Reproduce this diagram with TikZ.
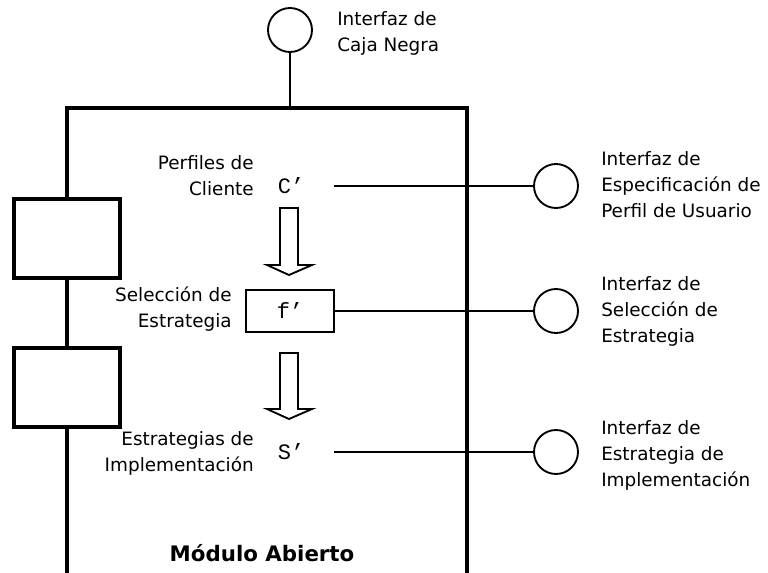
\documentclass[tikz,border=0pt]{standalone}
\usepackage{fontspec}
\setmainfont{DejaVu Sans}
\newfontfamily\monof{Liberation Mono}
\begin{document}
\begin{tikzpicture}[x=0.75pt,y=-0.75pt,
  lbl/.style={font=\fontsize{13.8}{19.5}\selectfont, inner sep=0pt},
  iface/.style={circle, draw, line width=1.4pt, minimum size=33pt, inner sep=0pt, fill=white},
  mono/.style={font=\monof\fontsize{16.5}{18}\selectfont, inner sep=0pt, minimum width=64.5pt, minimum height=20pt},
  fbox/.style={draw, line width=1.4pt, font=\monof\fontsize{16.5}{18}\selectfont, minimum width=66pt, minimum height=31.5pt, inner sep=0pt},
  sbox/.style={draw, line width=3pt, fill=white, minimum width=79.5pt, minimum height=59.25pt, inner sep=0pt},
  thick box/.style={line width=3pt, line join=miter},
  conn/.style={line width=1.5pt},
  hollow/.style={draw, line width=1.4pt, fill=white, line join=miter}]
\useasboundingbox (0,0) rectangle (768,572);

% main open module
\coordinate (top) at (290,108);
\draw[thick box] (67,590) -- (67,108) -- (467,108) -- (467,590);
\node[sbox] (b1) at (67,238.5) {};
\node[sbox] (b2) at (67,387) {};

% black-box interface
\node[iface] (cb) at (290,30) {};
\draw[conn] (cb) -- (top);
\node[lbl, anchor=west, align=left] (cbl) at (337,33) {Interfaz de\\Caja Negra};

% inner elements
\node[mono] (c) at (291,186) {C’};
\node[fbox] (f) at (290,311) {f’};
\node[mono] (s) at (291,452) {S’};

\node[lbl, anchor=east, align=right] (cl) at (254,176) {Perfiles de\\Cliente};
\node[lbl, anchor=east, align=right] (fl) at (232,309) {Selección de\\Estrategia};
\node[lbl, anchor=east, align=right] (sl) at (254,453) {Estrategias de\\Implementación};

% hollow arrows
\draw[hollow] (280,208) -- (298,208) -- (298,265) -- (312,265) -- (289,275) -- (267,265) -- (280,265) -- cycle;
\draw[hollow] (280,353) -- (298,353) -- (298,409) -- (312,409) -- (289,419) -- (267,409) -- (280,409) -- cycle;

% interfaces
\node[iface] (i1) at (556,186) {};
\node[iface] (i2) at (556,311) {};
\node[iface] (i3) at (556,452) {};
\draw[conn] (c.east) -- (i1);
\draw[conn] (f.east) -- (i2);
\draw[conn] (s.east) -- (i3);

\node[lbl, anchor=west, align=left] (i1l) at (601,185) {Interfaz de\\Especificación de\\Perfil de Usuario};
\node[lbl, anchor=west, align=left] (i2l) at (601,311) {Interfaz de\\Selección de\\Estrategia};
\node[lbl, anchor=west, align=left] (i3l) at (601,455) {Interfaz de\\Estrategia de\\Implementación};

\node[font=\bfseries\fontsize{16}{18}\selectfont, inner sep=0pt] (mod) at (262,553) {Módulo Abierto};
\end{tikzpicture}
\end{document}
